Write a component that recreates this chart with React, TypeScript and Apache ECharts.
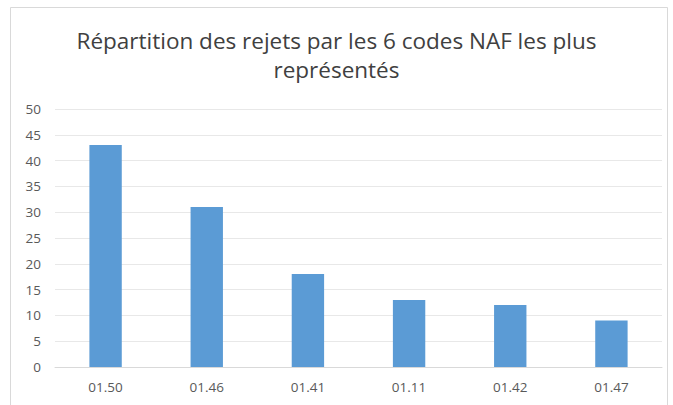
import React, { useEffect, useRef } from "react";
import * as echarts from "echarts";

const categories = ["01.50", "01.46", "01.41", "01.11", "01.42", "01.47"];
const values = [43, 31, 18, 13, 12, 9];
const titleText = "Répartition des rejets par les 6 codes NAF les plus\nreprésentés";

export default function App() {
  const ref = useRef<HTMLDivElement>(null);
  useEffect(() => {
    if (!ref.current) return;
    const chart = echarts.init(ref.current, undefined, { renderer: "svg" });
    chart.setOption({
      animation: false,
      backgroundColor: "#ffffff",
      title: {
        text: titleText,
        left: "center",
        top: 21,
        textStyle: {
          fontFamily: "Open Sans",
          fontSize: 22.5,
          fontWeight: "normal",
          color: "#404040",
          lineHeight: 29,
        },
      },
      graphic: [
        {
          type: "rect",
          shape: { x: 10.5, y: 7.5, width: 657, height: 410 },
          style: { fill: "none", stroke: "#d9d9d9", lineWidth: 1 },
          z: -1,
        },
      ],
      grid: { left: 55, right: 11, top: 109, bottom: 38 },
      xAxis: {
        type: "category",
        data: categories,
        axisTick: { show: false },
        axisLine: { lineStyle: { color: "#d9d9d9" } },
        axisLabel: {
          color: "#595959",
          fontFamily: "Open Sans",
          fontSize: 13.5,
          margin: 13,
        },
      },
      yAxis: {
        type: "value",
        min: 0,
        max: 50,
        interval: 5,
        axisLine: { show: false },
        axisTick: { show: false },
        splitLine: { lineStyle: { color: "#e8e8e8" } },
        axisLabel: {
          color: "#595959",
          fontFamily: "Open Sans",
          fontSize: 13.5,
          margin: 14,
        },
      },
      series: [
        {
          type: "bar",
          data: values,
          barWidth: "32%",
          itemStyle: { color: "#5b9bd5" },
        },
      ],
    });
    return () => chart.dispose();
  }, []);
  return (
    <div
      ref={ref}
      style={{ position: "fixed", left: 0, top: 0, width: 673, height: 405 }}
    />
  );
}
